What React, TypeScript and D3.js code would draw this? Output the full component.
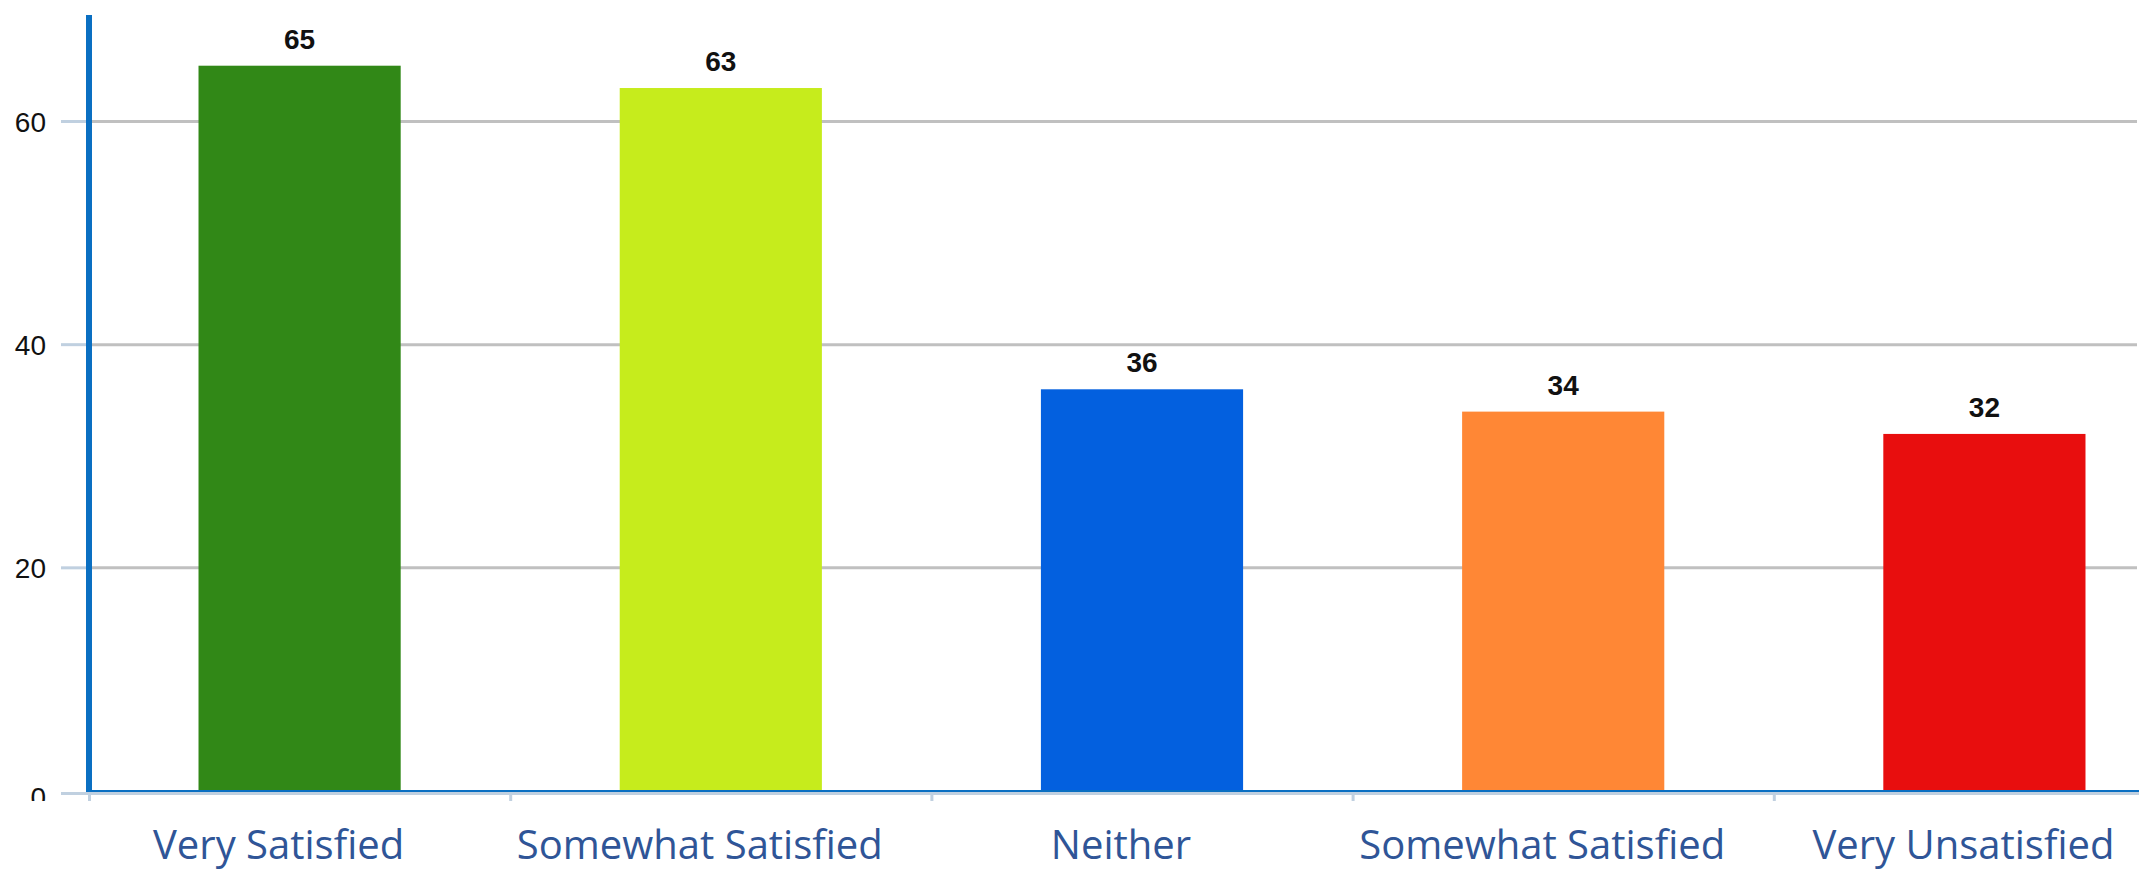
import React from "react";
import * as d3 from "d3";

const categories = ["Very Satisfied", "Somewhat Satisfied", "Neither", "Somewhat Satisfied", "Very Unsatisfied"];
const values = [65, 63, 36, 34, 32];
const barColors = ["#318817", "#c6ec1c", "#0360df", "#ff8735", "#e80e0e"];
const yTicks = [0, 20, 40, 60];

const W = 2139;
const H = 871;

export default function App() {
  const x = d3
    .scaleBand<number>()
    .domain(categories.map((_, i) => i))
    .range([89, 89 + 5 * 421.2])
    .paddingInner(0.52)
    .paddingOuter(0.26);
  const xb = d3
    .scaleBand<number>()
    .domain(categories.map((_, i) => i))
    .range([88, 88 + 5 * 421.2])
    .padding(0);
  const y = d3.scaleLinear().domain([0, 60]).range([791, 121.5]);

  return (
    <svg
      width={W}
      height={H}
      style={{ position: "absolute", left: 0, top: 0, background: "#fff" }}
    >
      <defs>
        <clipPath id="plotclip">
          <rect x={0} y={0} width={W} height={801} />
        </clipPath>
      </defs>
      {/* gridlines */}
      {yTicks
        .filter((t) => t > 0)
        .map((t) => (
          <g key={"g" + t}>
            <line x1={92} x2={2137} y1={y(t)} y2={y(t)} stroke="#c0c0c0" strokeWidth={3} />
            <line x1={61} x2={89} y1={y(t)} y2={y(t)} stroke="#c0d0e0" strokeWidth={3} />
          </g>
        ))}
      {/* bars */}
      {values.map((v, i) => (
        <rect
          key={"b" + i}
          x={x(i)}
          y={y(v)}
          width={x.bandwidth()}
          height={y(0) - y(v)}
          fill={barColors[i]}
        />
      ))}
      {/* data labels */}
      {values.map((v, i) => (
        <text
          key={"l" + i}
          x={(x(i) as number) + x.bandwidth() / 2}
          y={y(v) - 17}
          textAnchor="middle"
          fontFamily="Liberation Sans, Arial, sans-serif"
          fontWeight="bold"
          fontSize={28}
          fill="#111"
        >
          {v}
        </text>
      ))}
      {/* x axis lines */}
      <line x1={61} x2={W} y1={793.5} y2={793.5} stroke="#c0d0e0" strokeWidth={3} />
      <line x1={86} x2={W} y1={791} y2={791} stroke="#0a6fc2" strokeWidth={2} />
      {/* x ticks */}
      {categories.map((_, i) => (
        <line
          key={"xt" + i}
          x1={(xb(i) as number) + 1.5}
          x2={(xb(i) as number) + 1.5}
          y1={795}
          y2={801}
          stroke="#c0d0e0"
          strokeWidth={3}
        />
      ))}
      {/* y axis */}
      <line x1={89} x2={89} y1={15} y2={792} stroke="#0a6fc2" strokeWidth={6} />
      {/* y tick labels */}
      <g clipPath="url(#plotclip)">
        {yTicks.map((t) => (
          <text
            key={"yt" + t}
            x={46}
            y={y(t) + (t === 0 ? 16 : 10.5)}
            textAnchor="end"
            fontFamily="Liberation Sans, Arial, sans-serif"
            fontSize={28}
            fill="#111"
          >
            {t}
          </text>
        ))}
      </g>
      {/* category labels */}
      {categories.map((c, i) => (
        <text
          key={"c" + i}
          x={(xb(i) as number) + xb.bandwidth() / 2 - 20}
          y={859}
          textAnchor="middle"
          fontFamily="Open Sans, sans-serif"
          fontSize={40}
          fill="#2f5597"
        >
          {c}
        </text>
      ))}
    </svg>
  );
}
